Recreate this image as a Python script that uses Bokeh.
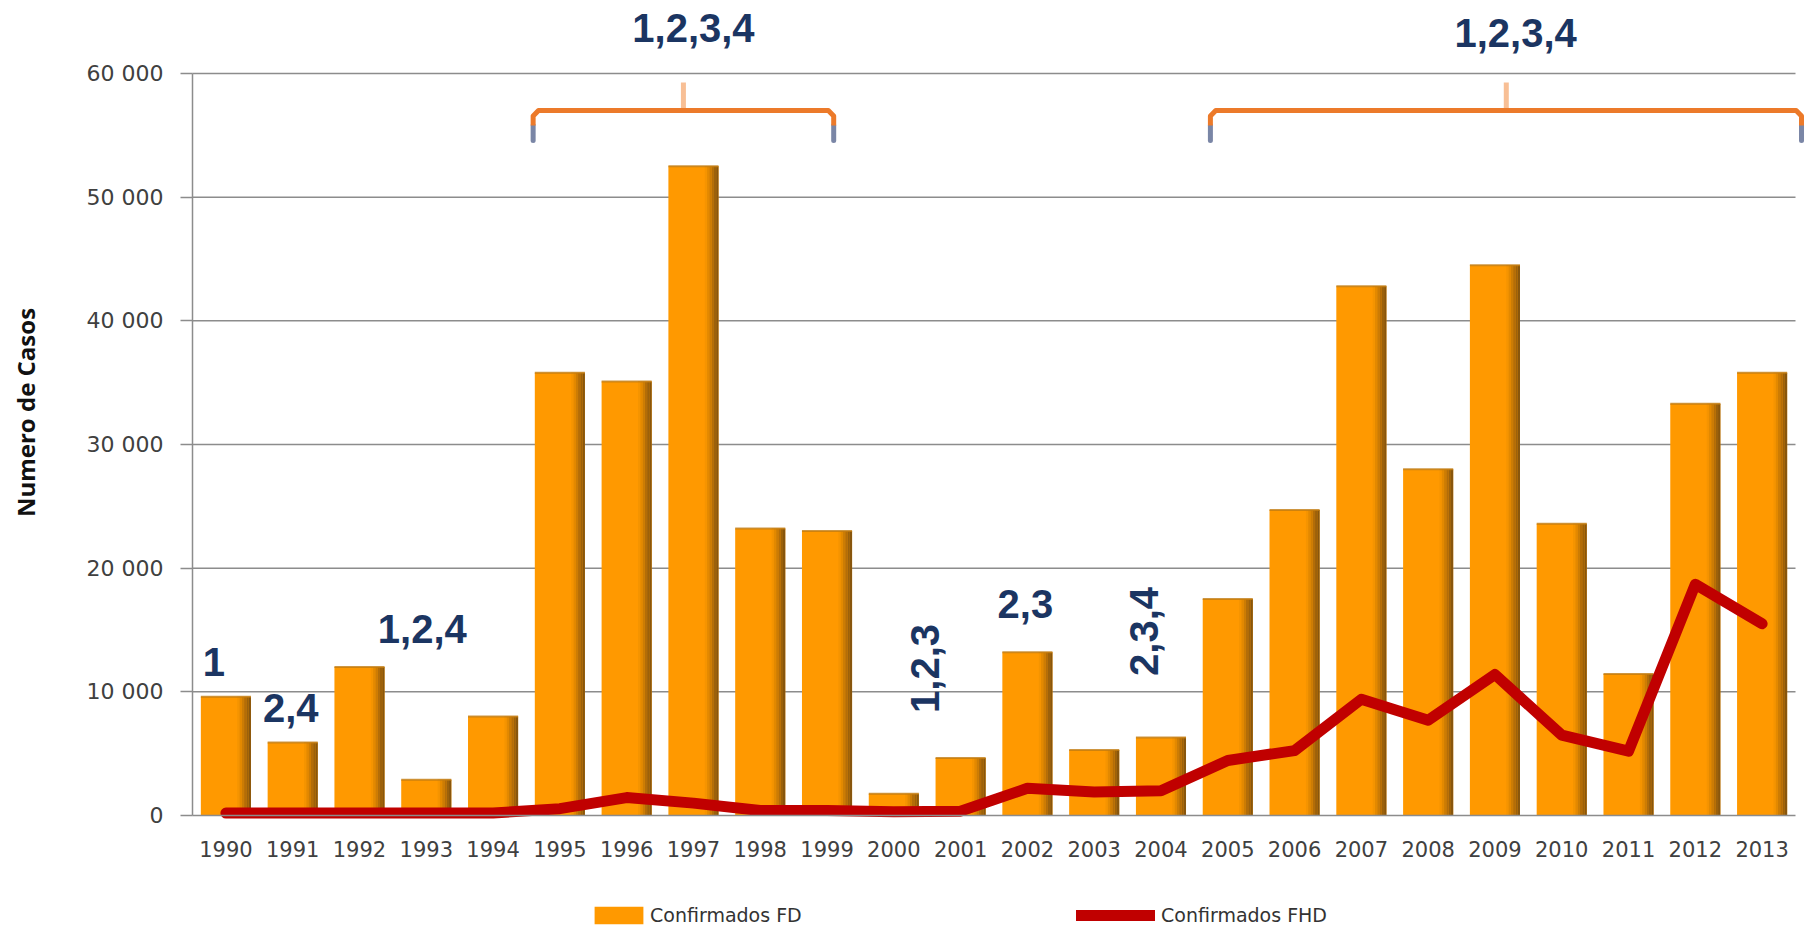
from bokeh.plotting import figure
from bokeh.models import (ColumnDataSource, Range1d, FixedTicker, Legend, LegendItem)
from bokeh.transform import dodge
from bokeh.core.properties import value
from bokeh.embed import file_html
from bokeh.resources import INLINE

# ---------------- data ----------------
years = [str(y) for y in range(1990, 2014)]
confirmados_fd = [9600, 5900, 12000, 2900, 8000, 35800, 35100, 52500, 23200, 23000,
                  1750, 4650, 13200, 5300, 6300, 17500, 24700, 42800, 28000, 44500,
                  23600, 11450, 33300, 35800]
confirmados_fhd = [200, 200, 200, 200, 200, 550, 1450, 1000, 400, 400,
                   300, 350, 2200, 1900, 2000, 4450, 5250, 9400, 7700, 11400,
                   6500, 5200, 18700, 15500]
y_ticks = [0, 10000, 20000, 30000, 40000, 50000, 60000]
y_tick_labels = ["0", "10 000", "20 000", "30 000", "40 000", "50 000", "60 000"]
serotype_text = ["1", "2,4", "1,2,4", "1,2,3", "2,3", "2,3,4", "1,2,3,4", "1,2,3,4"]
y_title = "Numero de Casos"

year_num = [int(y) for y in years]

# ---------------- layout constants ----------------
W, H = 1810, 929
PLOT_L, PLOT_R = 192, 1795           # plot area in screen px
ZERO_PX, PX_60K = 815, 742           # y pixel of 0, pixel height of 0..60000
CAT_W = (PLOT_R - PLOT_L) / len(years)
X_LO = year_num[0] - 0.5
X_HI = year_num[-1] + 0.5
X_START = X_LO - PLOT_L / CAT_W
X_END = X_START + W / CAT_W
PX_PER = PX_60K / 60000
Y_START = -(H - ZERO_PX) / PX_PER
Y_END = ZERO_PX / PX_PER
GRID_COLOR = "#8c8c8c"

# annotation positions (x in year units, y in data units)
ann_x = [1989.82, 1990.97, 1992.94, 2000.47, 2001.97, 2003.74, 1997.0, 2009.31]
ann_y = [12450, 8730, 15120, 11890, 17140, 14880, 63640, 63310]
ann_angle = [0, 0, 0, 1.5708, 0, 1.5708, 0, 0]

# brackets: (left, right, spike) in year units
brackets = [(1994.60, 1999.10, 1996.85), (2004.74, 2013.59, 2009.17)]
Y_H, Y_MID, Y_BOT, Y_SPIKE = 57010, 55790, 54580, 59270

src = ColumnDataSource(data=dict(year=year_num, fd=confirmados_fd, fhd=confirmados_fhd))

p = figure(x_range=Range1d(X_START, X_END), y_range=Range1d(Y_START, Y_END),
           width=W, height=H, output_backend="svg", toolbar_location=None,
           min_border_left=0, min_border_right=0, min_border_top=0, min_border_bottom=0)
p.outline_line_color = None
p.background_fill_color = "white"
p.xgrid.visible = False
p.ygrid.visible = False

# horizontal grid lines limited to the plot area (from the tick values)
p.segment(x0=X_LO, x1=X_HI, y0=y_ticks[1:], y1=y_ticks[1:],
          line_color=GRID_COLOR, line_width=1.5)

# y axis, placed at the left edge of the plot area
p.yaxis.fixed_location = X_LO
p.yaxis.ticker = FixedTicker(ticks=y_ticks)
p.yaxis.major_label_overrides = dict(zip(y_ticks, y_tick_labels))
p.yaxis.bounds = (0, 60000)
p.yaxis.axis_line_color = GRID_COLOR
p.yaxis.axis_line_width = 1.5
p.yaxis.major_tick_line_color = GRID_COLOR
p.yaxis.major_tick_line_width = 1.5
p.yaxis.major_tick_out = 12
p.yaxis.major_tick_in = 0
p.yaxis.minor_tick_line_color = None
p.yaxis.major_label_standoff = 17
p.yaxis.major_label_text_font = "DejaVu Sans"
p.yaxis.major_label_text_font_size = "22px"
p.yaxis.major_label_text_color = "#404040"

# x axis, placed at y = 0
p.xaxis.fixed_location = 0
p.xaxis.ticker = FixedTicker(ticks=year_num)
p.xaxis.major_label_overrides = dict(zip(year_num, years))
p.xaxis.bounds = (X_LO, X_HI)
p.xaxis.axis_line_color = GRID_COLOR
p.xaxis.axis_line_width = 1.5
p.xaxis.major_tick_line_color = None
p.xaxis.minor_tick_line_color = None
p.xaxis.major_label_standoff = 19
p.xaxis.major_label_text_font = "DejaVu Sans"
p.xaxis.major_label_text_font_size = "21px"
p.xaxis.major_label_text_color = "#404040"

# y-axis title
p.text(x=[X_START + 25 / CAT_W], y=[(ZERO_PX - 412) / PX_PER], text=[y_title],
       angle=1.5708, text_font=value("Open Sans"), text_font_style="bold",
       text_font_size="24px", text_color="#111111",
       text_align="center", text_baseline="middle")

# bars with shaded right edge
BAR_W = 0.75
bars = p.vbar(x="year", top="fd", width=BAR_W, source=src,
              fill_color="#FF9900", line_color=None)
shades = ["#F59400", "#E38900", "#CC7C04", "#B36D08", "#9C610B", "#88560D"]
strip = (BAR_W / 2 - 0.17) / len(shades)
for k, c in enumerate(shades):
    off = 0.17 + strip * k + strip / 2
    p.vbar(x=dodge("year", off), top="fd", width=strip,
           source=src, fill_color=c, line_color=None)
p.segment(x0=dodge("year", -BAR_W / 2), y0="fd",
          x1=dodge("year", BAR_W / 2), y1="fd",
          line_color="#C27C12", line_width=2, line_alpha=0.8, source=src)

# FHD line
fhd_line = p.line(x="year", y="fhd", source=src, line_width=11,
                  line_color="#C00000", line_cap="round", line_join="round")

# brackets
dx, dy = 0.08, 450
orange_xs, orange_ys, grey_xs, grey_ys, spk_xs, spk_ys = [], [], [], [], [], []
for xl, xr, xs in brackets:
    orange_xs.append([xl, xl, xl + dx, xr - dx, xr, xr])
    orange_ys.append([Y_MID, Y_H - dy, Y_H, Y_H, Y_H - dy, Y_MID])
    grey_xs += [[xl, xl], [xr, xr]]
    grey_ys += [[Y_MID, Y_BOT], [Y_MID, Y_BOT]]
    spk_xs.append([xs, xs])
    spk_ys.append([Y_H, Y_SPIKE])
p.multi_line(xs=spk_xs, ys=spk_ys, line_color="#F7B88A", line_width=5, line_alpha=0.9)
p.multi_line(xs=grey_xs, ys=grey_ys, line_color="#7A86A6", line_width=5, line_cap="round")
p.multi_line(xs=orange_xs, ys=orange_ys, line_color="#EC7A2A", line_width=5,
             line_join="round")

# serotype labels
p.text(x=ann_x, y=ann_y, text=serotype_text, angle=ann_angle,
       text_font=value("Liberation Sans"), text_font_style="bold",
       text_font_size="40px", text_color="#1B3562",
       text_align="center", text_baseline="middle")

# legends (inside the frame, which covers the whole canvas)
common = dict(padding=0, margin=0, border_line_color=None, background_fill_alpha=0,
              label_text_font="DejaVu Sans", label_text_font_size="19px",
              label_text_color="#333333", glyph_height=22, label_height=22)
leg1 = Legend(items=[LegendItem(label="Confirmados FD", renderers=[bars])],
              location=(588, 3), glyph_width=61, label_standoff=1, **common)
leg2 = Legend(items=[LegendItem(label="Confirmados FHD", renderers=[fhd_line])],
              location=(1076, 3), glyph_width=79, label_standoff=6, **common)
p.add_layout(leg1)
p.add_layout(leg2)

open("out.html", "w").write(file_html(p, INLINE))
